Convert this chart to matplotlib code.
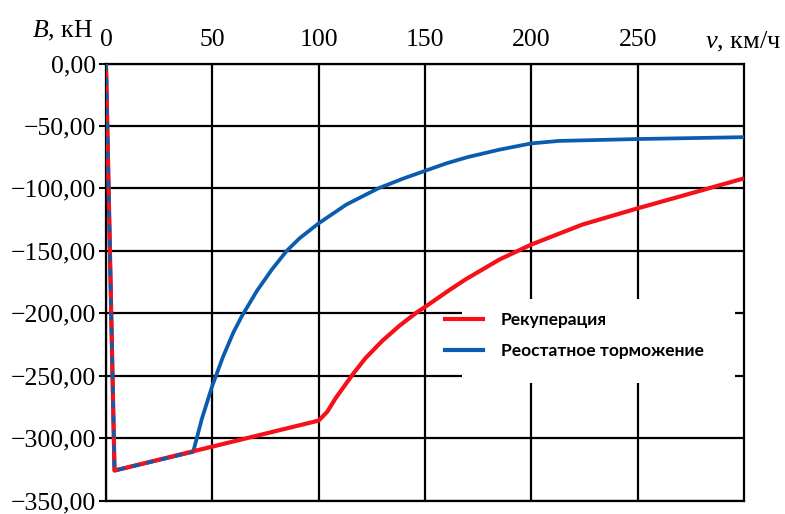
import matplotlib
matplotlib.use("Agg")
import matplotlib.pyplot as plt
from matplotlib.patches import Rectangle
from matplotlib.lines import Line2D

# Data
v_recup = [0, 4, 100, 104, 108, 116, 122, 130, 138, 146, 150, 161, 169, 185, 200,
           224, 250, 273, 300]
b_recup = [0, -326, -286, -279, -268, -249, -236, -222, -210, -199.5, -195, -182, -173,
           -157, -145, -129, -116, -105, -92]

v_rheo = [0, 4, 41, 45, 50, 55, 60, 64, 71, 78, 85, 91, 100, 113, 128, 140, 150,
          160, 170, 185, 200, 213, 250, 300]
b_rheo = [0, -326, -311, -285, -258, -235, -215, -202, -182, -165, -150, -140, -128,
          -113, -100, -92, -86, -80, -75, -69, -64, -62, -60.5, -59]

x_ticks = [0, 50, 100, 150, 200, 250]
y_ticks = [0, -50, -100, -150, -200, -250, -300, -350]
labels = ["Рекуперация", "Реостатное торможение"]

RED = "#f5101a"
BLUE = "#0a5cae"

plt.rcParams["mathtext.fontset"] = "custom"
plt.rcParams["mathtext.it"] = "Liberation Serif:italic"
plt.rcParams["mathtext.rm"] = "Liberation Serif"

fig = plt.figure(figsize=(7.85, 5.14), dpi=100)
ax = fig.add_axes([106/785, 1 - 500.5/514, (744 - 106)/785, (500.5 - 63.5)/514])

ax.set_xlim(0, 300)
ax.set_ylim(-350, 0)

serif = "Liberation Serif"

ax.set_xticks(x_ticks)
ax.set_xticklabels([str(t) for t in x_ticks], family=serif, fontsize=18.5)
ax.xaxis.tick_top()
ax.tick_params(axis="x", length=0, pad=9)

ax.set_yticks(y_ticks)
ax.set_yticklabels([("\u2212" if t < 0 else "") + f"{abs(t)},00" for t in y_ticks],
                   family=serif, fontsize=18.5)
ax.tick_params(axis="y", length=5, width=1.5, direction="out", pad=2)

ax.grid(True, color="black", linewidth=1.6)
ax.set_axisbelow(True)
for s in ax.spines.values():
    s.set_color("black")
    s.set_linewidth(1.6)

# white box behind legend (covers grid)
ax.add_patch(Rectangle((167.5, -256), 128.5, 67, facecolor="white",
                       edgecolor="none", zorder=1.5))

ax.plot(v_rheo, b_rheo, color=BLUE, linewidth=2.7, zorder=3, solid_capstyle="butt")
ax.plot(v_recup, b_recup, color=RED, linewidth=3.0, zorder=4, solid_capstyle="butt")
# overlapping part shown dashed blue over red
ax.plot(v_rheo[:3], b_rheo[:3], color=BLUE, linewidth=2.4, zorder=5,
        dashes=(2.2, 2.2), solid_capstyle="butt")

handles = [Line2D([], [], color=RED, linewidth=3.0),
           Line2D([], [], color=BLUE, linewidth=3.0)]
leg = ax.legend(handles, labels, loc="upper left",
                bbox_to_anchor=(445/785, 1 - 312/514), bbox_transform=fig.transFigure,
                frameon=False, handlelength=2.2, handletextpad=1.0, labelspacing=0.85,
                borderpad=0, borderaxespad=0,
                prop={"family": "Lato", "weight": "bold", "size": 12.5})
leg.set_zorder(6)

fig.text(32/785, 1 - 31/514, r"$\mathit{B}$, кН", family=serif, fontsize=18.5,
         ha="left", va="center")
fig.text(705/785, 1 - 42/514, r"$\mathit{v}$, км/ч", family=serif, fontsize=19,
         ha="left", va="center")

fig.savefig("out.png", dpi=100)
